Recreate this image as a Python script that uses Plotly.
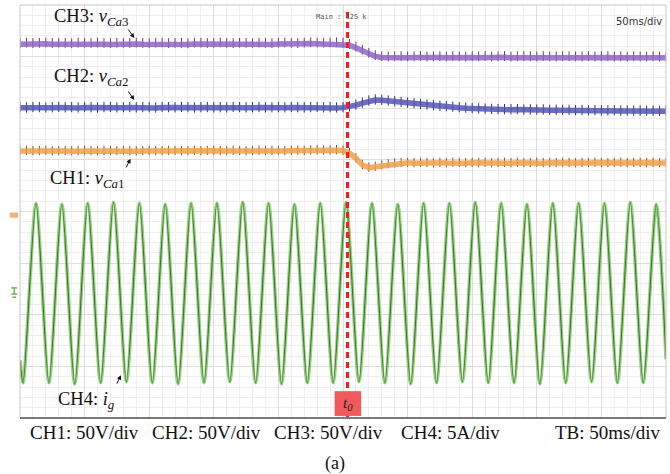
import plotly.graph_objects as go

# ---------------- data ----------------
t_ms = list(range(0, 505, 5))          # sample instants, ms (0..500, 50 ms/div)
t0_ms = 253.5                          # disturbance instant t0

# capacitor voltages (V), sampled every 5 ms
v_ca3 = [62.0, 62.3, 61.8, 62.1, 62.4, 61.9, 62.2, 62.0, 61.7, 62.3,
         62.1, 61.9, 62.4, 62.0, 61.8, 62.2, 62.1, 61.9, 62.3, 62.0,
         61.8, 62.2, 62.4, 61.9, 62.1, 62.0, 61.7, 62.3, 62.2, 61.9,
         62.0, 62.4, 62.1, 61.8, 62.2, 62.0, 61.9, 62.3, 62.1, 61.8,
         62.2, 62.5, 62.1, 61.9, 62.3, 62.6, 62.4, 62.2, 62.5, 62.7,
         62.3, 61.0, 58.5, 55.5, 52.5, 50.2, 49.2, 48.8, 49.0, 49.3,
         48.9, 49.1, 49.4, 48.8, 49.0, 49.2, 48.9, 49.3, 49.1, 48.8,
         49.2, 49.0, 49.4, 48.9, 49.1, 49.3, 48.8, 49.0, 49.2, 49.1,
         48.9, 49.3, 49.0, 48.8, 49.2, 49.1, 48.9, 49.0, 49.3, 48.8,
         49.1, 49.2, 48.9, 49.0, 48.7, 49.1, 48.9, 48.8, 49.0, 48.7,
         48.9]
v_ca2 = [62.0, 61.8, 62.2, 62.1, 61.7, 62.0, 62.3, 61.9, 62.1, 61.8,
         62.2, 62.0, 61.7, 62.1, 62.3, 61.9, 62.0, 62.2, 61.8, 62.1,
         62.0, 61.7, 62.2, 62.1, 61.9, 62.3, 62.0, 61.8, 62.1, 62.2,
         61.9, 62.0, 61.8, 62.3, 62.1, 61.9, 62.0, 62.2, 61.8, 62.0,
         62.1, 61.9, 62.2, 62.0, 61.8, 62.1, 62.3, 61.9, 62.0, 61.8,
         62.1, 62.8, 64.5, 66.5, 68.5, 69.5, 69.2, 68.5, 67.8, 67.2,
         66.5, 65.8, 65.2, 64.6, 64.0, 63.5, 63.0, 62.5, 62.0, 61.6,
         61.2, 60.9, 60.6, 60.4, 60.2, 60.1, 60.0, 60.2, 59.8, 59.9,
         59.7, 59.8, 59.5, 59.6, 59.4, 59.5, 59.2, 59.3, 59.1, 59.2,
         59.0, 58.9, 59.1, 58.8, 58.9, 58.7, 58.8, 58.6, 58.7, 58.5,
         58.6]
v_ca1 = [62.0, 62.2, 61.9, 62.1, 62.3, 61.8, 62.0, 62.2, 61.9, 62.1,
         62.4, 62.0, 61.8, 62.2, 62.1, 61.9, 62.3, 62.0, 61.8, 62.1,
         62.2, 61.9, 62.0, 62.3, 62.1, 61.8, 62.0, 62.2, 61.9, 62.1,
         62.3, 62.0, 61.9, 62.2, 62.0, 61.8, 62.1, 62.3, 62.0, 62.2,
         62.4, 62.1, 62.3, 62.5, 62.2, 62.6, 62.8, 62.5, 62.7, 62.9,
         62.4, 60.0, 55.0, 48.5, 46.0, 46.8, 48.2, 49.3, 50.0, 50.4,
         50.6, 50.3, 50.7, 50.5, 50.2, 50.6, 50.4, 50.8, 50.5, 50.3,
         50.6, 50.4, 50.7, 50.2, 50.5, 50.6, 50.3, 50.7, 50.4, 50.5,
         50.8, 50.3, 50.6, 50.4, 50.7, 50.5, 50.2, 50.6, 50.4, 50.7,
         50.5, 50.3, 50.6, 50.8, 50.4, 50.5, 50.7, 50.3, 50.6, 50.4,
         50.5]

# switching ripple spikes seen on the DC traces (V above / below the trace)
ripple_up = {"CH3": 6.0, "CH2": 5.5, "CH1": 5.0}
ripple_dn = {"CH3": 3.5, "CH2": 4.5, "CH1": 4.0}

# grid current i_g (A): successive extremes (start, trough, peak, ..., end)
ig_t = [0.0, 2.4, 12.4, 22.4, 32.4, 42.4, 52.4, 62.4, 72.4, 82.4, 92.4,
        102.4, 112.4, 122.4, 132.4, 142.4, 152.4, 162.4, 172.4, 182.4, 192.4,
        202.4, 212.4, 222.4, 232.4, 242.4, 252.4, 262.4, 272.4, 282.4, 292.4,
        302.4, 312.4, 322.4, 332.4, 342.4, 352.4, 362.4, 372.4, 382.4, 392.4,
        402.4, 412.4, 422.4, 432.4, 442.4, 452.4, 462.4, 472.4, 482.4, 492.4,
        500.0]
ig_a = [-6.5, -8.7, 8.7, -8.7, 8.6, -8.8, 8.7, -8.7, 8.8, -8.6, 8.7,
        -8.7, 8.6, -8.8, 8.7, -8.7, 8.7, -8.6, 8.8, -8.7, 8.7,
        -8.8, 8.6, -8.7, 8.7, -8.7, 8.8, -8.6, 8.7, -8.7, 8.6,
        -8.8, 8.7, -8.7, 8.7, -8.6, 8.8, -8.7, 8.7, -8.7, 8.6,
        -8.8, 8.7, -8.7, 8.7, -8.6, 8.7, -8.7, 8.8, -8.7, 8.6,
        -6.4]

# scope settings
volt_per_div = 50.0
amp_per_div = 5.0
offset_div = {"CH1": 3.93, "CH2": 4.77, "CH3": 6.0, "CH4": 2.42}
bottom_labels = ["CH1: 50V/div", "CH2: 50V/div", "CH3: 50V/div",
                 "CH4: 5A/div", "TB: 50ms/div"]

# ---------------- figure ----------------
fig = go.Figure()

def dc_trace(vals, ch, band, spike):
    y = [offset_div[ch] + v / volt_per_div for v in vals]
    fig.add_trace(go.Scatter(
        x=t_ms, y=y, mode="lines",
        line=dict(color=band, width=5.5),
        error_y=dict(type="constant", symmetric=False,
                     value=ripple_up[ch] / volt_per_div,
                     valueminus=ripple_dn[ch] / volt_per_div,
                     color=spike, thickness=1, width=0),
        hoverinfo="skip", showlegend=False))

dc_trace(v_ca3, "CH3", "rgba(145,100,195,0.85)", "#64398f")
dc_trace(v_ca2, "CH2", "rgba(85,85,180,0.85)", "#2e2e85")
dc_trace(v_ca1, "CH1", "rgba(238,160,75,0.85)", "#8f5220")

ig_y = [offset_div["CH4"] + a / amp_per_div for a in ig_a]
fig.add_trace(go.Scatter(x=ig_t, y=ig_y, mode="lines",
                         line=dict(color="rgba(120,200,90,0.8)", width=3.4,
                                   shape="spline", smoothing=0.75),
                         hoverinfo="skip", showlegend=False))
fig.add_trace(go.Scatter(x=ig_t, y=ig_y, mode="lines",
                         line=dict(color="#466f3c", width=1.1,
                                   shape="spline", smoothing=0.75),
                         hoverinfo="skip", showlegend=False))

# ---------------- shapes ----------------
shapes = []
# t0 marker
shapes.append(dict(type="line", xref="x", yref="paper", x0=t0_ms, x1=t0_ms,
                   y0=0, y1=0.99, line=dict(color="#ff1a1a", width=3,
                                            dash="6px,4px")))
shapes.append(dict(type="rect", xref="x", yref="y", x0=t0_ms - 10.0,
                   x1=t0_ms + 10.5, y0=0.04, y1=0.52, fillcolor="#f05a5a",
                   line=dict(width=0)))
# frame
shapes.append(dict(type="rect", xref="paper", yref="paper", x0=0, x1=1,
                   y0=0, y1=1, line=dict(color="#c8c8c8", width=1)))
shapes.append(dict(type="line", xref="paper", yref="paper", x0=0, x1=1,
                   y0=0, y1=0, line=dict(color="#7a7a7a", width=2)))
# ground markers on the left edge
shapes.append(dict(type="rect", xref="paper", yref="y", x0=-0.016, x1=-0.003,
                   y0=offset_div["CH1"] - 0.05, y1=offset_div["CH1"] + 0.05,
                   fillcolor="#f3b27a", line=dict(width=0)))
g = offset_div["CH4"]
for (xa, xb, yy) in [(-0.0135, -0.0045, g + 0.10), (-0.0135, -0.0045, g - 0.02),
                     (-0.012, -0.006, g - 0.08)]:
    shapes.append(dict(type="line", xref="paper", yref="y", x0=xa, x1=xb,
                       y0=yy, y1=yy, line=dict(color="#5aa846", width=1.3)))
shapes.append(dict(type="line", xref="paper", yref="y", x0=-0.009, x1=-0.009,
                   y0=g + 0.10, y1=g - 0.02, line=dict(color="#5aa846", width=1.3)))

# ---------------- annotations ----------------
serif = "Liberation Serif"
ann = []
def label(x, y, text):
    ann.append(dict(x=x, y=y, xref="paper", yref="y", text=text, showarrow=False,
                    xanchor="right", yanchor="middle", align="right",
                    font=dict(family=serif, size=18.5, color="#111")))
def arrow(x, y, ax, ay):
    ann.append(dict(x=x, y=y, xref="x", yref="y", text="", showarrow=True,
                    ax=ax, ay=ay, arrowhead=2, arrowsize=0.9, arrowwidth=1,
                    arrowcolor="#111"))

label(0.172, 7.76, "CH3: <i>v</i><sub><i>Ca</i>3</sub>")
label(0.172, 6.60, "CH2: <i>v</i><sub><i>Ca</i>2</sub>")
label(0.166, 4.62, "CH1: <i>v</i><sub><i>Ca</i>1</sub>")
label(0.150, 0.33, "CH4: <i>i</i><sub><i>g</i></sub>")
arrow(88.5, 7.36, -7, -10)
arrow(88.5, 6.16, -7, -10)
arrow(85.5, 5.02, -5, 10)
arrow(78.2, 0.83, -5, 10)

ann.append(dict(x=t0_ms, y=0.28, xref="x", yref="y",
                text="<i>t</i><sub><i>0</i></sub>", showarrow=False,
                font=dict(family=serif, size=15, color="#222")))

ann.append(dict(x=0.497, y=0.985, xref="paper", yref="paper", text="Main : 125 k",
                showarrow=False, font=dict(family="DejaVu Sans Mono", size=7,
                                           color="#555")))
ann.append(dict(x=0.997, y=0.978, xref="paper", yref="paper", text="50ms/div",
                showarrow=False, xanchor="right",
                font=dict(family="DejaVu Sans", size=10, color="#333")))

bx = [0.013, 0.201, 0.39, 0.586, 0.825]
for xx, txt in zip(bx, bottom_labels):
    ann.append(dict(x=xx, y=-0.034, xref="paper", yref="paper", text=txt,
                    showarrow=False, xanchor="left", yanchor="middle",
                    font=dict(family=serif, size=19, color="#111")))
ann.append(dict(x=0.488, y=-0.109, xref="paper", yref="paper", text="(a)",
                showarrow=False, xanchor="center", yanchor="middle",
                font=dict(family=serif, size=18, color="#111")))

fig.update_layout(
    width=670, height=474,
    margin=dict(l=20, r=4, t=5, b=56),
    paper_bgcolor="white", plot_bgcolor="white",
    shapes=shapes, annotations=ann,
    xaxis=dict(range=[0, 500], dtick=50, showgrid=True, gridcolor="#dedede",
               gridwidth=1, zeroline=False, showticklabels=False, ticks="",
               minor=dict(dtick=10, showgrid=True, gridcolor="#f0f0f0")),
    yaxis=dict(range=[0, 8], dtick=1, showgrid=True, gridcolor="#dedede",
               gridwidth=1, zeroline=False, showticklabels=False, ticks="",
               minor=dict(dtick=0.2, showgrid=True, gridcolor="#f0f0f0")),
)

fig.write_html("out.html", config={"displayModeBar": False},
               post_script="document.body.style.margin='0px';"
                           "document.body.style.overflow='hidden';")
